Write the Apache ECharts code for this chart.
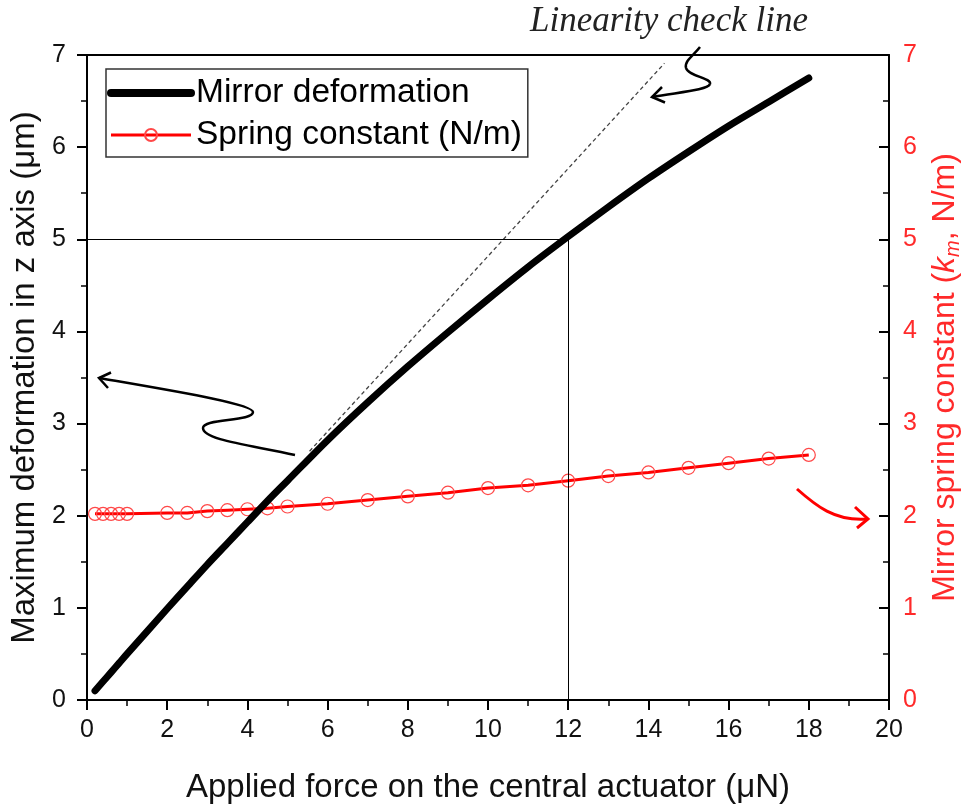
<!DOCTYPE html>
<html>
<head>
<meta charset="utf-8">
<script src="https://cdn.jsdelivr.net/npm/echarts/dist/echarts.min.js"></script>
<style>
  html, body { margin: 0; padding: 0; background: #fff; overflow: hidden; }
  #chart { width: 966px; height: 807px; }
</style>
</head>
<body>
<div id="chart"></div>
<script>
// Applied force on the central actuator (µN)
const force = [0.2, 0.4, 0.6, 0.8, 1, 2, 2.5, 3, 3.5, 4, 4.5, 5, 6, 7, 8, 9, 10, 11, 12, 13, 14, 15, 16, 17, 18];
// Maximum deformation in z (µm)
const deformation = [0.10, 0.20, 0.30, 0.40, 0.50, 0.99, 1.23, 1.47, 1.70, 1.93, 2.16, 2.38, 2.82, 3.23, 3.62, 3.99, 4.35, 4.70, 5.03, 5.35, 5.66, 5.95, 6.23, 6.49, 6.75];
// Mirror spring constant k_m (N/m)
const springConstant = [2.02, 2.02, 2.02, 2.02, 2.02, 2.03, 2.03, 2.05, 2.06, 2.07, 2.08, 2.10, 2.13, 2.17, 2.21, 2.25, 2.30, 2.33, 2.38, 2.43, 2.47, 2.52, 2.57, 2.62, 2.66];
// Linearity check line end points [force, deformation]
const linearityLine = [[5.55, 2.70], [14.4, 6.91]];
// Guide lines marking the 5 µm deformation at 12 µN
const guidePoint = [12, 5];

const FONT = "'Liberation Sans', Arial, sans-serif";
const RED = '#ff2a2a';

const chart = echarts.init(document.getElementById('chart'), null, { renderer: 'canvas' });

const axisCommon = {
  type: 'value',
  splitLine: { show: false },
  minorSplitLine: { show: false },
  axisLine: { show: true, onZero: false, lineStyle: { color: '#000', width: 2 } },
  axisTick: { show: true, length: 10, lineStyle: { color: '#000', width: 2 } },
  minorTick: { show: true, splitNumber: 2, length: 6, lineStyle: { color: '#000', width: 1.5 } }
};

const option = {
  animation: false,
  backgroundColor: '#fff',
  grid: { left: 87, right: 77, top: 55, bottom: 107, containLabel: false, outerBoundsMode: 'none' },
  legend: {
    data: [
      { name: 'Mirror deformation', lineStyle: { width: 8, cap: 'round', color: '#000' }, itemStyle: { opacity: 0 } },
      { name: 'Spring constant (N/m)', lineStyle: { width: 3, color: '#ff0000' } }
    ],
    orient: 'vertical',
    left: 106,
    top: 69,
    padding: [7, 6, 5, 1],
    itemGap: 8,
    itemWidth: 80,
    itemHeight: 15,
    borderColor: '#333',
    borderWidth: 1.5,
    textStyle: { fontFamily: FONT, fontSize: 33.5, color: '#000' }
  },
  xAxis: [
    Object.assign({}, axisCommon, {
      position: 'bottom',
      min: 0, max: 20, interval: 2,
      axisLabel: { fontFamily: FONT, fontSize: 25, color: '#111', margin: 18 },
      name: 'Applied force on the central actuator (\u03bcN)',
      nameLocation: 'middle',
      nameGap: 71,
      nameTextStyle: { fontFamily: FONT, fontSize: 33, color: '#111' }
    }),
    {
      type: 'value', position: 'top', min: 0, max: 20,
      axisLine: { show: true, onZero: false, lineStyle: { color: '#000', width: 2 } },
      axisTick: { show: false }, axisLabel: { show: false }, splitLine: { show: false }
    }
  ],
  yAxis: [
    Object.assign({}, axisCommon, {
      position: 'left',
      min: 0, max: 7, interval: 1,
      axisLabel: { fontFamily: FONT, fontSize: 25, color: '#111', margin: 21 },
      name: 'Maximum deformation in z axis (\u03bcm)',
      nameLocation: 'middle',
      nameRotate: 90,
      nameGap: 43,
      nameTextStyle: { fontFamily: FONT, fontSize: 33, color: '#111' }
    }),
    Object.assign({}, axisCommon, {
      position: 'right',
      min: 0, max: 7, interval: 1,
      axisTick: { show: true, inside: true, length: 10, lineStyle: { color: '#000', width: 2 } },
      minorTick: { show: true, splitNumber: 2, length: 6, lineStyle: { color: '#000', width: 1.5 } },
      axisLabel: { fontFamily: FONT, fontSize: 25, color: RED, margin: 14 },
      name: '{t|Mirror spring constant (}{k|k}{s|m}{t|, N/m)}',
      nameLocation: 'middle',
      nameRotate: 90,
      nameGap: 38,
      nameTextStyle: {
        fontFamily: FONT, fontSize: 32, color: RED,
        rich: {
          t: { fontFamily: FONT, fontSize: 32, color: RED, lineHeight: 36 },
          k: { fontFamily: FONT, fontSize: 32, color: RED, fontStyle: 'italic', lineHeight: 36 },
          s: { fontFamily: FONT, fontSize: 20, color: RED, fontStyle: 'italic', lineHeight: 20, verticalAlign: 'bottom' }
        }
      }
    })
  ],
  series: [
    {
      name: 'Linearity check line',
      type: 'line',
      xAxisIndex: 0, yAxisIndex: 0,
      data: linearityLine,
      symbol: 'none',
      silent: true,
      lineStyle: { color: '#444', width: 1.3, type: [4, 3] },
      z: 1
    },
    {
      name: 'Spring constant (N/m)',
      type: 'line',
      xAxisIndex: 0, yAxisIndex: 1,
      data: force.map((f, i) => [f, springConstant[i]]),
      symbol: 'circle',
      symbolSize: 13,
      itemStyle: { color: 'rgba(255,255,255,0)', borderColor: '#ff4848', borderWidth: 1.2 },
      lineStyle: { color: '#ff0000', width: 3 },
      z: 2
    },
    {
      name: 'Mirror deformation',
      type: 'line',
      xAxisIndex: 0, yAxisIndex: 0,
      data: force.map((f, i) => [f, deformation[i]]),
      symbol: 'none',
      smooth: 0.3,
      itemStyle: { color: '#000' },
      lineStyle: { color: '#000', width: 7, cap: 'round', join: 'round' },
      z: 3,
      markLine: {
        silent: true,
        symbol: 'none',
        label: { show: false },
        lineStyle: { color: '#000', width: 1, type: 'solid' },
        data: [
          [{ coord: [0, guidePoint[1]] }, { coord: [guidePoint[0], guidePoint[1]] }],
          [{ coord: [guidePoint[0], guidePoint[1]] }, { coord: [guidePoint[0], 0] }]
        ]
      }
    }
  ],
  graphic: [
    {
      type: 'text', left: 530, top: 4,
      style: { text: 'Linearity check line', font: "italic 35px 'Liberation Serif', 'Times New Roman', serif", fill: '#222' }
    },
    // arrow from the caption to the dashed line
    { type: 'bezierCurve', shape: { x1: 700, y1: 47, cpx1: 694, cpy1: 55, cpx2: 684, cpy2: 61, x2: 686, y2: 68 }, style: { stroke: '#000', lineWidth: 2.5, fill: null } },
    { type: 'bezierCurve', shape: { x1: 686, y1: 68, cpx1: 688, cpy1: 76, cpx2: 712, cpy2: 78, x2: 710, y2: 84 }, style: { stroke: '#000', lineWidth: 2.5, fill: null } },
    { type: 'bezierCurve', shape: { x1: 710, y1: 84, cpx1: 708, cpy1: 90, cpx2: 680, cpy2: 92, x2: 652, y2: 97 }, style: { stroke: '#000', lineWidth: 2.5, fill: null } },
    { type: 'polyline', shape: { points: [[662, 87], [652, 97], [665, 102.5]] }, style: { stroke: '#000', lineWidth: 2.5, fill: null } },
    // arrow from the deformation curve to the left axis
    { type: 'bezierCurve', shape: { x1: 295, y1: 455, cpx1: 250, cpy1: 445, cpx2: 203, cpy2: 440, x2: 203, y2: 428 }, style: { stroke: '#000', lineWidth: 2.5, fill: null } },
    { type: 'bezierCurve', shape: { x1: 203, y1: 428, cpx1: 203, cpy1: 418, cpx2: 253, cpy2: 422, x2: 253, y2: 412 }, style: { stroke: '#000', lineWidth: 2.5, fill: null } },
    { type: 'bezierCurve', shape: { x1: 253, y1: 412, cpx1: 253, cpy1: 404, cpx2: 180, cpy2: 392, x2: 99, y2: 378 }, style: { stroke: '#000', lineWidth: 2.5, fill: null } },
    { type: 'polyline', shape: { points: [[111, 372.5], [99, 378], [108, 388]] }, style: { stroke: '#000', lineWidth: 2.5, fill: null } },
    // arrow from the spring constant curve to the right axis
    { type: 'bezierCurve', shape: { x1: 797, y1: 489, cpx1: 815, cpy1: 505, cpx2: 835, cpy2: 522, x2: 868, y2: 519 }, style: { stroke: '#ff0000', lineWidth: 3, fill: null } },
    { type: 'polyline', shape: { points: [[855, 507], [868, 519], [857, 528]] }, style: { stroke: '#ff0000', lineWidth: 3, fill: null } }
  ]
};

chart.setOption(option);
</script>
</body>
</html>
